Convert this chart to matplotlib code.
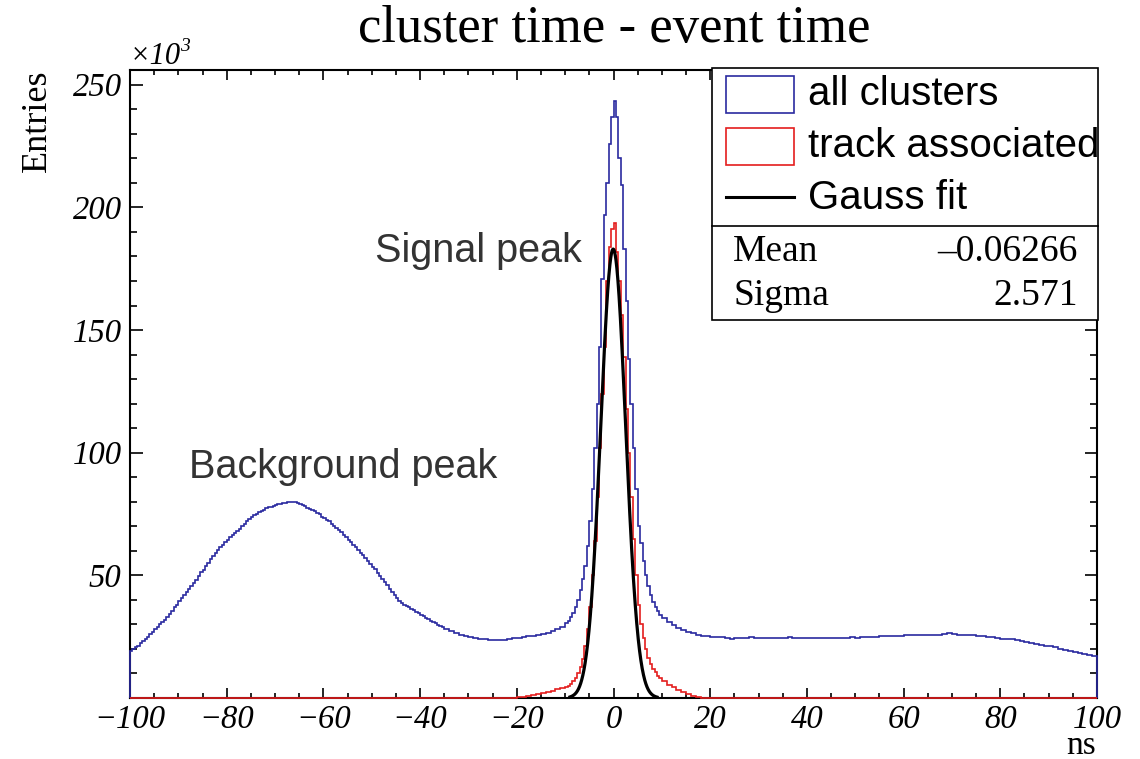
import numpy as np
import matplotlib.pyplot as plt
from matplotlib.patches import Rectangle
from matplotlib.lines import Line2D
from matplotlib.ticker import FixedLocator, MultipleLocator

W, H = 1140, 759

# bin edges in ns: 0.5 ns bins on the background peak and the core, 1 ns elsewhere
edges = np.concatenate([np.arange(-100, -35, 0.5),
                        np.arange(-35, -10, 1.0),
                        np.arange(-10, 10, 0.5),
                        np.arange(10, 100.5, 1.0)])

# all clusters, entries / 1e3
blue_bkg = [19.1, 19.9, 20.6, 21.4, 22.5, 23.4, 24.1, 24.9, 26.0, 27.0,
            28.0, 29.0, 30.0, 31.0, 32.0, 33.1, 34.4, 35.6, 36.9, 38.1,
            39.4, 40.6, 41.9, 43.1, 44.4, 45.6, 46.9, 48.2, 49.8, 51.2,
            52.3, 53.8, 55.2, 56.7, 57.9, 59.1, 60.4, 61.5, 62.5, 63.5,
            64.5, 65.5, 66.5, 67.4, 68.1, 69.0, 70.0, 71.0, 72.0, 73.0,
            73.6, 74.4, 75.1, 75.9, 76.2, 76.8, 77.3, 77.7, 78.0, 78.4,
            78.6, 79.0, 79.0, 79.4, 79.6, 80.0, 80.1, 79.9, 79.8, 79.4,
            79.1, 78.7, 78.2, 77.6, 77.1, 76.5, 76.1, 75.5, 75.1, 73.9,
            73.4, 72.6, 72.0, 71.0, 70.2, 69.2, 68.5, 67.5, 66.5, 65.5,
            64.5, 63.5, 62.5, 61.5, 60.4, 59.2, 58.1, 56.9, 55.8, 54.6,
            53.6, 52.4, 51.1, 49.9, 48.5, 47.1, 45.9, 44.5, 43.3, 42.1,
            40.9, 39.7, 38.9, 38.1, 37.5, 36.9, 36.3, 35.7, 35.1, 34.5,
            33.9, 33.3, 32.7, 32.1, 31.5, 30.9, 30.5, 29.9, 29.5, 28.9]
blue_valley = [28.2, 27.3, 26.5, 25.8, 25.2, 24.8, 24.4, 24.1, 23.9, 23.8,
               23.7, 23.6, 23.7, 24.0, 24.3, 24.6, 24.8, 25.1, 25.4, 25.8,
               26.2, 26.7, 27.3, 28.0, 29.0]
blue_core = [30.5, 31.5, 33, 34.5, 37, 40, 44, 48.5, 54, 62,
             72, 85, 102, 120, 143, 171, 197, 210, 226, 237,
             243.5, 237, 220, 209, 183, 162, 138, 120, 102, 85,
             70, 63, 56, 50, 45.5, 42, 39, 37, 35.5, 34]
blue_right = [32.5, 31, 29.7, 28.5, 27.6, 26.9, 26.3, 25.8, 25.4, 25.1,
              24.9, 24.8, 24.7, 24.6, 24.2, 24.4, 24.5, 24.4, 24.7, 24.5,
              24.6, 24.3, 24.5, 24.4, 24.6, 24.5, 24.7, 24.5, 24.6, 24.4,
              24.6, 24.5, 24.6, 24.4, 24.5, 24.6, 24.5, 24.4, 24.5, 24.7,
              24.6, 24.8, 24.9, 25.0, 24.9, 25.1, 25.2, 25.3, 25.4, 25.3,
              25.5, 25.6, 25.6, 25.7, 25.7, 25.6, 25.5, 25.6, 26.0, 26.3,
              26.0, 25.8, 25.7, 25.6, 25.6, 25.4, 25.2, 25.0, 24.7, 24.4,
              24.2, 24.0, 23.9, 23.7, 23.2, 22.8, 22.4, 22.1, 21.8, 21.4,
              21.0, 20.6, 20.1, 19.7, 19.3, 18.9, 18.5, 18.0, 17.6, 17.1]

# track associated, entries / 1e3
red_bkg = [0] * 130
red_valley = [0] * 15 + [0.3, 0.6, 0.9, 1.2, 1.6, 2.0, 2.5, 3.0, 3.5, 4.0]
red_core = [4.5, 5, 5.8, 6.8, 8, 10, 12.5, 16, 21, 28,
            37, 50, 64, 82, 102, 124, 143, 170, 184, 191,
            193.5, 182, 170, 156, 139, 118, 100, 82, 65, 50,
            38, 30, 24.5, 20, 16.5, 14, 12, 10.5, 9, 8.2]
red_right = [7.0, 5.5, 4.3, 3.2, 2.3, 1.6, 1.0, 0.5, 0.2, 0.1] + [0] * 80

# Gauss fit parameters (amplitude / 1e3, mean, sigma in ns)
fit_amp = 183.0
fit_mean = -0.06266
fit_sigma = 2.571
fit_range = (-9, 9)

blue = np.array(blue_bkg + blue_valley + blue_core + blue_right)
red = np.array(red_bkg + red_valley + red_core + red_right)

BLUE = '#2a2aa0'
RED = '#e41e1e'
SERIF = 'Liberation Serif'
SANS = 'Liberation Sans'


def fx(px):
    return px / W


def fy(py):
    return 1 - py / H


fig = plt.figure(figsize=(W / 100, H / 100), dpi=100)
ax = fig.add_axes([fx(130), fy(698), (1097 - 130) / W, (698 - 70) / H])

ax.stairs(blue, edges, color=BLUE, lw=1.2, clip_on=False, zorder=3)
ax.stairs(red, edges, color=RED, lw=1.2, clip_on=False, zorder=3)
xf = np.linspace(fit_range[0], fit_range[1], 400)
ax.plot(xf, fit_amp * np.exp(-0.5 * ((xf - fit_mean) / fit_sigma) ** 2),
        color='black', lw=2.3, zorder=4)

ax.set_xlim(-100, 100)
ax.set_ylim(0, 256)
ax.xaxis.set_major_locator(MultipleLocator(20))
ax.xaxis.set_minor_locator(MultipleLocator(5))
ax.yaxis.set_major_locator(FixedLocator([50, 100, 150, 200, 250]))
ax.yaxis.set_minor_locator(MultipleLocator(10))
ax.tick_params(which='both', direction='in', top=True, right=True, width=1.2)
ax.tick_params(axis='x', which='major', length=7, pad=5)
ax.tick_params(axis='x', which='minor', length=3.5)
ax.tick_params(axis='y', which='major', length=9, pad=6)
ax.tick_params(axis='y', which='minor', length=5)
for lab in ax.get_xticklabels() + ax.get_yticklabels():
    lab.set_family(SERIF)
    lab.set_style('italic')
    lab.set_size(23.5)
for s in ax.spines.values():
    s.set_linewidth(1.5)

# titles
fig.text(fx(614), fy(42), 'cluster time - event time', ha='center', va='baseline',
         family=SERIF, size=38)
fig.text(fx(37), fy(70), 'Entries', rotation=90, ha='center', va='top',
         family=SERIF, size=26)
fig.text(fx(1096), fy(754), 'ns', ha='right', va='baseline', family=SERIF, size=24)
fig.text(fx(130), fy(64), '\u00d710', ha='left', va='baseline', family=SERIF,
         style='italic', size=22)
fig.text(fx(180), fy(51), '3', ha='left', va='baseline', family=SERIF,
         style='italic', size=14)

# annotations
fig.text(fx(375), fy(262), 'Signal peak', ha='left', va='baseline', family=SANS,
         size=28.5, color='#333333')
fig.text(fx(189), fy(478), 'Background peak', ha='left', va='baseline', family=SANS,
         size=28.5, color='#333333')

# legend + fit box
fig.add_artist(Rectangle((fx(712), fy(320)), (1098 - 712) / W, (320 - 68) / H,
                         transform=fig.transFigure, facecolor='white',
                         edgecolor='black', lw=1.2, zorder=5))
fig.add_artist(Line2D([fx(712), fx(1098)], [fy(226), fy(226)],
                      transform=fig.transFigure, color='black', lw=1.2, zorder=6))
fig.add_artist(Rectangle((fx(726), fy(113)), 68 / W, 37 / H, transform=fig.transFigure,
                         facecolor='none', edgecolor=BLUE, lw=1.2, zorder=6))
fig.add_artist(Rectangle((fx(726), fy(165)), 68 / W, 37 / H, transform=fig.transFigure,
                         facecolor='none', edgecolor=RED, lw=1.2, zorder=6))
fig.add_artist(Line2D([fx(726), fx(794)], [fy(197), fy(197)],
                      transform=fig.transFigure, color='black', lw=2.2, zorder=6))
for label, yb in [('all clusters', 105), ('track associated', 157), ('Gauss fit', 209)]:
    fig.text(fx(808), fy(yb), label, ha='left', va='baseline', family=SANS, size=29,
             zorder=7)
fig.text(fx(733), fy(261), 'Mean', ha='left', va='baseline', family=SERIF, size=27, zorder=7)
fig.text(fx(1078), fy(261), f'{fit_mean:.5f}'.replace('-', '\u2013'), ha='right',
         va='baseline', family=SERIF, size=27, zorder=7)
fig.text(fx(733), fy(305), 'Sigma', ha='left', va='baseline', family=SERIF, size=27, zorder=7)
fig.text(fx(1078), fy(305), f'{fit_sigma:.3f}', ha='right', va='baseline',
         family=SERIF, size=27, zorder=7)

fig.savefig('out.png', dpi=100)
